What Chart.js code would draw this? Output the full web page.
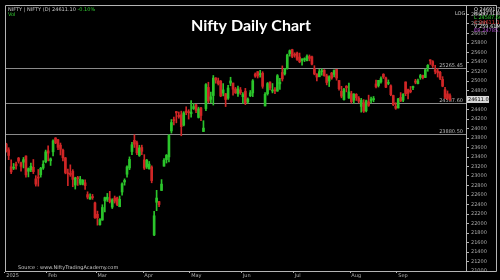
<!DOCTYPE html>
<html><head><meta charset="utf-8">
<script src="https://cdn.jsdelivr.net/npm/chart.js@4.4.1/dist/chart.umd.min.js"></script>
<style>html,body{margin:0;padding:0;background:#000;}canvas{display:block;}</style>
</head><body>
<canvas id="c" width="500" height="280"></canvas>
<script>
const dates = [
"2025-01-09","2025-01-10","2025-01-13","2025-01-14","2025-01-15","2025-01-16","2025-01-17","2025-01-20","2025-01-21","2025-01-22","2025-01-23","2025-01-24","2025-01-27","2025-01-28","2025-01-29","2025-01-30","2025-01-31",
"2025-02-01","2025-02-03","2025-02-04","2025-02-05","2025-02-06","2025-02-07","2025-02-10","2025-02-11","2025-02-12","2025-02-13","2025-02-14","2025-02-17","2025-02-18","2025-02-19","2025-02-20","2025-02-21","2025-02-24","2025-02-25","2025-02-27","2025-02-28",
"2025-03-03","2025-03-04","2025-03-05","2025-03-06","2025-03-07","2025-03-10","2025-03-11","2025-03-12","2025-03-13","2025-03-17","2025-03-18","2025-03-19","2025-03-20","2025-03-21","2025-03-24","2025-03-25","2025-03-26","2025-03-27","2025-03-28",
"2025-04-01","2025-04-02","2025-04-03","2025-04-04","2025-04-07","2025-04-08","2025-04-09","2025-04-11","2025-04-15","2025-04-16","2025-04-17","2025-04-21","2025-04-22","2025-04-23","2025-04-24","2025-04-25","2025-04-28","2025-04-29","2025-04-30",
"2025-05-02","2025-05-05","2025-05-06","2025-05-07","2025-05-08","2025-05-09","2025-05-12","2025-05-13","2025-05-14","2025-05-15","2025-05-16","2025-05-19","2025-05-20","2025-05-21","2025-05-22","2025-05-23","2025-05-26","2025-05-27","2025-05-28","2025-05-29","2025-05-30",
"2025-06-02","2025-06-03","2025-06-04","2025-06-05","2025-06-06","2025-06-09","2025-06-10","2025-06-11","2025-06-12","2025-06-13","2025-06-16","2025-06-17","2025-06-18","2025-06-19","2025-06-20","2025-06-23","2025-06-24","2025-06-25","2025-06-26","2025-06-27","2025-06-30",
"2025-07-01","2025-07-02","2025-07-03","2025-07-04","2025-07-07","2025-07-08","2025-07-09","2025-07-10","2025-07-11","2025-07-14","2025-07-15","2025-07-16","2025-07-17","2025-07-18","2025-07-21","2025-07-22","2025-07-23","2025-07-24","2025-07-25","2025-07-28","2025-07-29","2025-07-30","2025-07-31",
"2025-08-01","2025-08-04","2025-08-05","2025-08-06","2025-08-07","2025-08-08","2025-08-11","2025-08-12","2025-08-13","2025-08-14","2025-08-18","2025-08-19","2025-08-20","2025-08-21","2025-08-22","2025-08-25","2025-08-26","2025-08-28","2025-08-29",
"2025-09-01","2025-09-02","2025-09-03","2025-09-04","2025-09-05","2025-09-08","2025-09-09","2025-09-10","2025-09-11","2025-09-12","2025-09-15","2025-09-16","2025-09-17","2025-09-18","2025-09-19","2025-09-22","2025-09-23","2025-09-24","2025-09-25","2025-09-26","2025-09-29","2025-09-30"
];
const open = [
23674,23551,23195,23165,23250,23377,23277,23291,23421,23099,23128,23183,22940,22960,23026,23169,23296,
23528,23320,23509,23801,23761,23649,23543,23383,23050,23055,23097,22809,22963,22847,22821,22857,22609,22516,22568,22433,
22194,21974,22073,22476,22508,22521,22345,22537,22541,22353,22663,22874,23037,23169,23515,23751,23700,23433,23600,
23341,23192,23150,23190,21758,22447,22460,22695,23207,23345,23402,23949,24185,24357,24277,24289,24070,24370,24342,
24311,24419,24500,24233,24432,23936,24420,24865,24613,24694,25064,25005,24996,24744,24733,24639,24956,24957,24832,24730,24812,
24670,24786,24560,24691,24749,25145,25196,25134,25164,24474,24733,24977,24789,24803,24787,24939,25180,25150,25268,25576,25661,
25551,25588,25505,25428,25450,25428,25514,25511,25256,25149,25089,25196,25230,25108,24999,25166,25139,25243,25011,24782,24609,24890,24642,
24734,24597,24720,24641,24464,24544,24372,24563,24586,24607,24938,24904,24980,25142,25065,24949,24899,24695,24466,
24432,24653,24596,24980,24819,24802,24864,25000,24946,25075,25118,25074,25276,25441,25410,25239,25209,25183,25034,24818,24729,24691
];
const high = [
23690,23596,23341,23264,23293,23391,23292,23391,23426,23170,23270,23347,23007,23137,23183,23322,23546,
23633,23381,23762,23807,23773,23694,23568,23391,23144,23235,23133,22975,22993,22992,22924,22921,22668,22625,22613,22450,
22261,22106,22395,22556,22633,22677,22522,22578,22558,22578,22857,22940,23216,23402,23709,23869,23736,23646,23649,
23450,23350,23306,23215,22255,22698,22468,22924,23368,23452,23872,24189,24242,24359,24348,24366,24355,24457,24396,
24589,24526,24510,24449,24447,24164,24944,24974,24767,25116,25071,25062,25011,24946,24737,24909,25079,24958,24865,24892,24864,
24754,24845,24644,24800,25030,25170,25199,25223,25196,24754,24968,24982,24947,24863,25136,25058,25318,25267,25565,25654,25669,
25594,25608,25588,25470,25489,25549,25548,25525,25322,25151,25245,25255,25238,25144,25111,25182,25233,25247,25011,24889,24848,24902,24957,
24784,24736,24734,24672,24634,24609,24600,24702,24664,24674,25022,25012,25089,25154,25084,25022,24919,24702,24543,
24636,24756,24737,24981,24832,24885,24891,25036,25038,25139,25126,25251,25346,25448,25429,25331,25261,25206,25092,24868,24791,24731
];
const low = [
23503,23344,23048,23135,23146,23272,23100,23170,22976,22981,23090,23050,22787,22786,22976,23139,23277,
23318,23222,23423,23680,23556,23443,23316,23046,22799,22993,22774,22725,22801,22814,22812,22720,22518,22508,22508,22105,
21965,21964,22068,22245,22464,22433,22315,22430,22377,22353,22599,22807,22973,23133,23451,23601,23451,23412,23450,
23136,23158,23145,22857,21743,22270,22353,22695,23207,23273,23298,23903,24073,24119,24216,23847,24054,24290,24198,
24238,24400,24331,24220,24164,23936,24378,24543,24536,24494,24954,24916,24669,24686,24462,24614,24900,24704,24737,24677,24717,
24526,24502,24530,24671,24671,25077,25063,25082,24847,24473,24703,24813,24750,24733,24783,24825,24999,25125,25248,25523,25490,
25500,25432,25384,25331,25408,25425,25424,25340,25130,25001,25089,25121,25100,24918,24883,25035,25085,25018,24806,24646,24599,24771,24635,
24535,24535,24590,24539,24344,24337,24347,24465,24539,24563,24852,24873,24955,25054,24860,24921,24689,24481,24404,
24432,24567,24567,24690,24621,24751,24815,24941,24940,25036,25042,25070,25205,25349,25286,25151,25084,25027,24878,24629,24606,24588
];
const close = [
23527,23432,23086,23176,23213,23312,23203,23345,23024,23155,23205,23092,22829,22957,23163,23250,23508,
23482,23361,23739,23696,23603,23560,23382,23072,23046,23031,22929,22960,22945,22933,22913,22796,22553,22547,22545,22125,
22119,22083,22337,22545,22553,22461,22498,22471,22397,22509,22834,22907,23191,23350,23658,23669,23487,23592,23519,
23165,23332,23250,22904,22162,22536,22399,22829,23329,23437,23852,24126,24167,24329,24247,24039,24328,24336,24334,
24347,24461,24380,24414,24274,24008,24925,24578,24667,25062,25020,24945,24684,24813,24610,24853,25001,24827,24752,24834,24751,
24717,24543,24621,24751,25003,25103,25104,25141,24888,24719,24946,24853,24812,24793,25112,24972,25044,25245,25549,25637,25517,
25542,25453,25405,25461,25461,25523,25476,25355,25150,25082,25196,25212,25112,24968,25091,25061,25220,25062,24837,24681,24821,24855,24768,
24565,24723,24650,24574,24596,24363,24585,24487,24619,24631,24877,25014,25051,25084,24870,24968,24712,24501,24427,
24625,24580,24716,24734,24741,24773,24869,24973,25006,25114,25070,25239,25330,25424,25327,25202,25170,25057,24891,24655,24635,24611
];
const levels = [25265.45, 24537.60, 23880.50];
const yMin = 21000, yMax = 26600, yStep = 200, yLabelMax = 26400;
const monthNames = ["2025","Feb","Mar","Apr","May","Jun","Jul","Aug","Sep","Oct","Nov","Dec"];
const blankBars = 6;
const titleText = "Nifty Daily Chart";
const headerText = "NIFTY | NIFTY (D) 24611.10";
const headerChange = "-0.10%";
const sourceText = "Source : www.NiftyTradingAcademy.com";
const infoLines = [["O 24691.75","#e0e0e0"],["H 24731.80","#e0e0e0"],["L 24587.60","#33cc33"],["C 24611.10","#dd3333"],["V 259.61M","#e0e0e0"],["ER 24785.96","#b04cd0"]];

const UP = "#2bc52b", DOWN = "#d02626";
const labels = dates.concat(Array(blankBars).fill(""));
const colors = close.map((c, i) => c >= open[i] ? UP : DOWN);
const wickData = low.map((l, i) => [l, high[i]]);
const bodyData = open.map((o, i) => [o, close[i]]);
const isMonthStart = i => i < dates.length && (i === 0 || dates[i].slice(5,7) !== dates[i-1].slice(5,7));

const deco = {
  id: "deco",
  beforeDraw(chart) {
    const c = chart.ctx;
    c.save(); c.fillStyle = "#000"; c.fillRect(0, 0, chart.width, chart.height); c.restore();
  },
  beforeDatasetsDraw(chart) {
    const c = chart.ctx, a = chart.chartArea, y = chart.scales.y;
    c.save();
    c.strokeStyle = "#8a8a8a"; c.lineWidth = 1;
    levels.forEach(v => {
      const py = Math.round(y.getPixelForValue(v)) + 0.5;
      c.beginPath(); c.moveTo(a.left, py); c.lineTo(a.right, py); c.stroke();
      c.fillStyle = "#b8b8b8"; c.font = "5px 'DejaVu Sans'"; c.textAlign = "right"; c.textBaseline = "bottom";
      c.fillText(v.toFixed(2), a.right - 3, py - 0.5);
    });
    c.restore();
  },
  afterDraw(chart) {
    const c = chart.ctx, a = chart.chartArea, y = chart.scales.y;
    c.save();
    c.strokeStyle = "#b4b4b4"; c.lineWidth = 1;
    c.beginPath();
    c.moveTo(5.5, 5.5); c.lineTo(496.5, 5.5); c.lineTo(496.5, 271.5); c.lineTo(5.5, 271.5); c.closePath();
    c.stroke();
    c.fillStyle = "#ffffff"; c.font = "bold 16px Lato"; c.textAlign = "center"; c.textBaseline = "middle";
    c.fillText(titleText, 251, 26);
    c.font = "5px 'DejaVu Sans'"; c.textAlign = "left"; c.textBaseline = "top";
    c.fillStyle = "#c8c8c8"; c.fillText(headerText, 8, 7);
    const w = c.measureText(headerText + " ").width;
    c.fillStyle = "#33cc33"; c.fillText(headerChange, 8 + w, 7);
    c.fillText("Vol", 8, 12);
    infoLines.forEach((l, i) => { c.fillStyle = l[1]; c.fillText(l[0], 474, 7 + i * 4.3); });
    c.fillStyle = "#c8c8c8"; c.fillText("LOG", 455, 11);
    c.fillStyle = "#c8c8c8"; c.fillText(sourceText, 18, 265);
    const last = close[close.length - 1];
    const py = y.getPixelForValue(last);
    c.fillStyle = "#d8d8d8"; c.fillRect(467, py - 3.5, 22, 7);
    c.fillStyle = "#000"; c.textBaseline = "middle"; c.fillText(last.toFixed(2), 468, py);
    c.restore();
  }
};

new Chart(document.getElementById("c"), {
  data: {
    labels,
    datasets: [
      { type: "bar", data: wickData, backgroundColor: colors, barThickness: 1, grouped: false, order: 2, minBarLength: 1 },
      { type: "bar", data: bodyData, backgroundColor: colors, barThickness: 2, grouped: false, order: 1, minBarLength: 1 }
    ]
  },
  options: {
    responsive: false, animation: false, devicePixelRatio: 1,
    layout: { padding: { left: 5, top: 5, right: 0, bottom: 0 } },
    plugins: { legend: { display: false }, tooltip: { enabled: false }, title: { display: false } },
    scales: {
      x: {
        type: "category", offset: true,
        grid: { display: true, drawOnChartArea: false, tickLength: 2, color: ctx => isMonthStart(ctx.index) ? "#b4b4b4" : "rgba(0,0,0,0)" },
        border: { display: true, color: "#b4b4b4" },
        ticks: {
          autoSkip: false, maxRotation: 0, minRotation: 0, padding: 0, align: "start",
          color: "#b0b0b0", font: { size: 5, family: "DejaVu Sans" },
          callback: (v, i) => isMonthStart(i) ? monthNames[parseInt(dates[i].slice(5,7), 10) - 1] : ""
        },
        afterFit: s => { s.height = 9; }
      },
      y: {
        position: "right", min: yMin, max: yMax,
        grid: { display: true, drawOnChartArea: false, tickLength: 3, color: "#b4b4b4" },
        border: { display: true, color: "#b4b4b4" },
        ticks: { stepSize: yStep, padding: 2, color: "#a8a8a8", font: { size: 5, family: "DejaVu Sans" }, callback: v => v <= yLabelMax ? String(v) : "" },
        afterFit: s => { s.width = 34; }
      }
    }
  },
  plugins: [deco]
});
</script>
</body></html>
